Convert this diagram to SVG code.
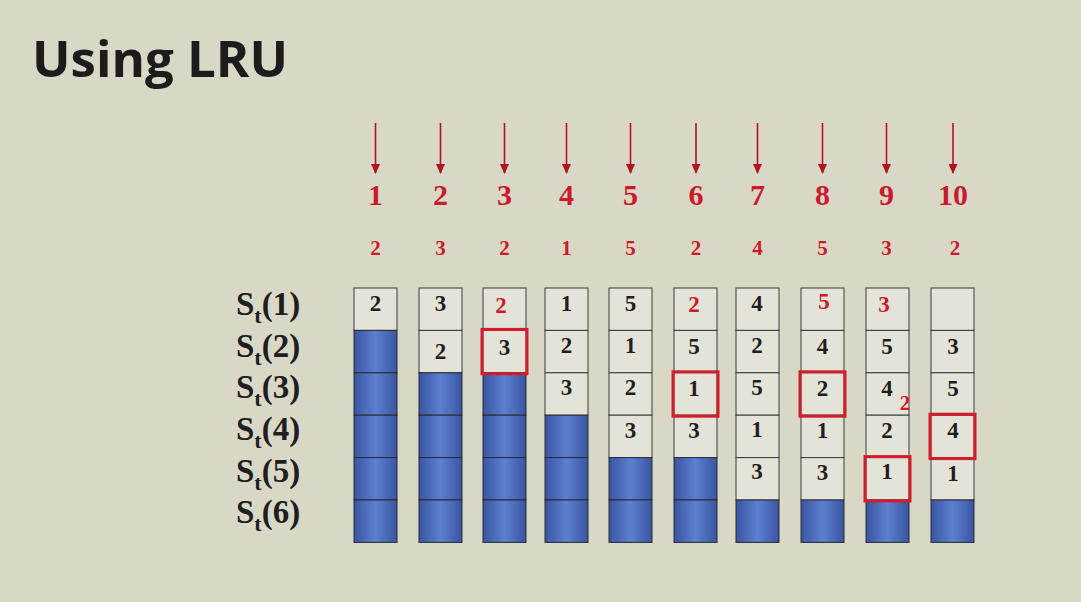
<svg xmlns="http://www.w3.org/2000/svg" width="1081" height="602" viewBox="0 0 1081 602">
<defs>
<linearGradient id="blue" x1="0" y1="0" x2="1" y2="0">
<stop offset="0" stop-color="#3a55a2"/>
<stop offset="0.5" stop-color="#5b80d1"/>
<stop offset="1" stop-color="#3a55a2"/>
</linearGradient>
<marker id="ah" markerWidth="10" markerHeight="9" refX="9" refY="4.5" orient="auto" markerUnits="userSpaceOnUse" viewBox="0 0 10 9">
<path d="M0,0 L10,4.5 L0,9 Z" fill="#b3121f"/>
</marker>
<style>
.bg{fill:#d9d8c7}
.title{font-family:"Open Sans","Noto Sans",sans-serif;font-weight:bold;font-size:51px;fill:#1c1c1c}
.lt{fill:#e4e3d7;stroke:#3a3a36;stroke-width:1}
.bl{fill:url(#blue);stroke:#2a2a2a;stroke-width:1}
.num{font-family:"Liberation Serif","Times New Roman",serif;font-weight:bold;font-size:23px;fill:#1e1e1e;text-anchor:middle}
.red{fill:#cc1a2c}
.box{fill:none;stroke:#d41c2c;stroke-width:3}
.big{font-family:"Liberation Serif","Times New Roman",serif;font-weight:bold;font-size:30px;fill:#cc1a2c;text-anchor:middle}
.sm{font-family:"Liberation Serif","Times New Roman",serif;font-weight:bold;font-size:21px;fill:#cc1a2c;text-anchor:middle}
.lab{font-family:"Liberation Serif","Times New Roman",serif;font-weight:bold;font-size:33px;fill:#1e1e1e}
.arr{stroke:#b3121f;stroke-width:1.6;fill:none;marker-end:url(#ah)}
</style>
</defs>
<rect class="bg" x="0" y="0" width="1081" height="602"/>
<text class="title" x="32" y="77">Using LRU</text>

<g id="connectors">
<line class="arr" x1="375.5" y1="123" x2="375.5" y2="173"/>
<line class="arr" x1="440.5" y1="123" x2="440.5" y2="173"/>
<line class="arr" x1="504.5" y1="123" x2="504.5" y2="173"/>
<line class="arr" x1="566.5" y1="123" x2="566.5" y2="173"/>
<line class="arr" x1="630.5" y1="123" x2="630.5" y2="173"/>
<line class="arr" x1="696" y1="123" x2="696" y2="173"/>
<line class="arr" x1="757.5" y1="123" x2="757.5" y2="173"/>
<line class="arr" x1="822.5" y1="123" x2="822.5" y2="173"/>
<line class="arr" x1="886.5" y1="123" x2="886.5" y2="173"/>
<line class="arr" x1="953" y1="123" x2="953" y2="173"/>
</g>

<g id="time-labels">
<text class="big" x="375.5" y="205">1</text>
<text class="big" x="440.5" y="205">2</text>
<text class="big" x="504.5" y="205">3</text>
<text class="big" x="566.5" y="205">4</text>
<text class="big" x="630.5" y="205">5</text>
<text class="big" x="696" y="205">6</text>
<text class="big" x="757.5" y="205">7</text>
<text class="big" x="822.5" y="205">8</text>
<text class="big" x="886.5" y="205">9</text>
<text class="big" x="953" y="205">10</text>
</g>
<g id="references">
<text class="sm" x="375.5" y="255">2</text>
<text class="sm" x="440.5" y="255">3</text>
<text class="sm" x="504.5" y="255">2</text>
<text class="sm" x="566.5" y="255">1</text>
<text class="sm" x="630.5" y="255">5</text>
<text class="sm" x="696" y="255">2</text>
<text class="sm" x="757.5" y="255">4</text>
<text class="sm" x="822.5" y="255">5</text>
<text class="sm" x="886.5" y="255">3</text>
<text class="sm" x="955" y="255">2</text>
</g>

<g id="row-labels">
<text class="lab" x="236" y="315">S<tspan dy="8" font-size="22">t</tspan><tspan dy="-8">(1)</tspan></text>
<text class="lab" x="236" y="357">S<tspan dy="8" font-size="22">t</tspan><tspan dy="-8">(2)</tspan></text>
<text class="lab" x="236" y="398">S<tspan dy="8" font-size="22">t</tspan><tspan dy="-8">(3)</tspan></text>
<text class="lab" x="236" y="440">S<tspan dy="8" font-size="22">t</tspan><tspan dy="-8">(4)</tspan></text>
<text class="lab" x="236" y="482">S<tspan dy="8" font-size="22">t</tspan><tspan dy="-8">(5)</tspan></text>
<text class="lab" x="236" y="523">S<tspan dy="8" font-size="22">t</tspan><tspan dy="-8">(6)</tspan></text>
</g>

<g id="col1">
<rect class="lt" x="354" y="288" width="43" height="42.4"/>
<rect class="bl" x="354" y="330.4" width="43" height="42.4"/>
<rect class="bl" x="354" y="372.8" width="43" height="42.4"/>
<rect class="bl" x="354" y="415.2" width="43" height="42.4"/>
<rect class="bl" x="354" y="457.6" width="43" height="42.4"/>
<rect class="bl" x="354" y="500" width="43" height="42.4"/>
<text class="num" x="375.5" y="311">2</text>
</g>

<g id="col2">
<rect class="lt" x="419" y="288" width="43" height="42.4"/>
<rect class="lt" x="419" y="330.4" width="43" height="42.4"/>
<rect class="bl" x="419" y="372.8" width="43" height="42.4"/>
<rect class="bl" x="419" y="415.2" width="43" height="42.4"/>
<rect class="bl" x="419" y="457.6" width="43" height="42.4"/>
<rect class="bl" x="419" y="500" width="43" height="42.4"/>
<text class="num" x="440.5" y="311">3</text>
<text class="num" x="440.5" y="359">2</text>
</g>

<g id="col3">
<rect class="lt" x="483" y="288" width="43" height="42.4"/>
<rect class="lt" x="483" y="330.4" width="43" height="42.4"/>
<rect class="bl" x="483" y="372.8" width="43" height="42.4"/>
<rect class="bl" x="483" y="415.2" width="43" height="42.4"/>
<rect class="bl" x="483" y="457.6" width="43" height="42.4"/>
<rect class="bl" x="483" y="500" width="43" height="42.4"/>
<text class="num red" x="501" y="313">2</text>
<text class="num" x="504.5" y="355">3</text>
<rect class="box" x="482" y="329.4" width="45" height="44.4"/>
</g>

<g id="col4">
<rect class="lt" x="545" y="288" width="43" height="42.4"/>
<rect class="lt" x="545" y="330.4" width="43" height="42.4"/>
<rect class="lt" x="545" y="372.8" width="43" height="42.4"/>
<rect class="bl" x="545" y="415.2" width="43" height="42.4"/>
<rect class="bl" x="545" y="457.6" width="43" height="42.4"/>
<rect class="bl" x="545" y="500" width="43" height="42.4"/>
<text class="num" x="566.5" y="311">1</text>
<text class="num" x="566.5" y="353">2</text>
<text class="num" x="566.5" y="395">3</text>
</g>

<g id="col5">
<rect class="lt" x="609" y="288" width="43" height="42.4"/>
<rect class="lt" x="609" y="330.4" width="43" height="42.4"/>
<rect class="lt" x="609" y="372.8" width="43" height="42.4"/>
<rect class="lt" x="609" y="415.2" width="43" height="42.4"/>
<rect class="bl" x="609" y="457.6" width="43" height="42.4"/>
<rect class="bl" x="609" y="500" width="43" height="42.4"/>
<text class="num" x="630.5" y="311">5</text>
<text class="num" x="630.5" y="353">1</text>
<text class="num" x="630.5" y="395">2</text>
<text class="num" x="630.5" y="438">3</text>
</g>

<g id="col6">
<rect class="lt" x="674" y="288" width="43" height="42.4"/>
<rect class="lt" x="674" y="330.4" width="43" height="42.4"/>
<rect class="lt" x="674" y="372.8" width="43" height="42.4"/>
<rect class="lt" x="674" y="415.2" width="43" height="42.4"/>
<rect class="bl" x="674" y="457.6" width="43" height="42.4"/>
<rect class="bl" x="674" y="500" width="43" height="42.4"/>
<text class="num red" x="694" y="312">2</text>
<text class="num" x="694" y="354">5</text>
<text class="num" x="694" y="396">1</text>
<text class="num" x="694" y="438">3</text>
<rect class="box" x="673" y="371.8" width="45" height="44.4"/>
</g>

<g id="col7">
<rect class="lt" x="736" y="288" width="43" height="42.4"/>
<rect class="lt" x="736" y="330.4" width="43" height="42.4"/>
<rect class="lt" x="736" y="372.8" width="43" height="42.4"/>
<rect class="lt" x="736" y="415.2" width="43" height="42.4"/>
<rect class="lt" x="736" y="457.6" width="43" height="42.4"/>
<rect class="bl" x="736" y="500" width="43" height="42.4"/>
<text class="num" x="757" y="311">4</text>
<text class="num" x="757" y="353">2</text>
<text class="num" x="757" y="395">5</text>
<text class="num" x="757" y="437">1</text>
<text class="num" x="757" y="479">3</text>
</g>

<g id="col8">
<rect class="lt" x="801" y="288" width="43" height="42.4"/>
<rect class="lt" x="801" y="330.4" width="43" height="42.4"/>
<rect class="lt" x="801" y="372.8" width="43" height="42.4"/>
<rect class="lt" x="801" y="415.2" width="43" height="42.4"/>
<rect class="lt" x="801" y="457.6" width="43" height="42.4"/>
<rect class="bl" x="801" y="500" width="43" height="42.4"/>
<text class="num red" x="824" y="309">5</text>
<text class="num" x="822.5" y="354">4</text>
<text class="num" x="822.5" y="396">2</text>
<text class="num" x="822.5" y="438">1</text>
<text class="num" x="822.5" y="480">3</text>
<rect class="box" x="800" y="371.8" width="45" height="44.4"/>
</g>

<g id="col9">
<rect class="lt" x="866" y="288" width="43" height="42.4"/>
<rect class="lt" x="866" y="330.4" width="43" height="42.4"/>
<rect class="lt" x="866" y="372.8" width="43" height="42.4"/>
<rect class="lt" x="866" y="415.2" width="43" height="42.4"/>
<rect class="lt" x="866" y="457.6" width="43" height="42.4"/>
<rect class="bl" x="866" y="500" width="43" height="42.4"/>
<text class="num red" x="884" y="312">3</text>
<text class="num" x="887" y="354">5</text>
<text class="num" x="887" y="396">4</text>
<text class="num" x="887" y="438">2</text>
<text class="num" x="887" y="479">1</text>
<text class="sm" x="905" y="410">2</text>
<rect class="box" x="865" y="456.6" width="45" height="44.4"/>
</g>

<g id="col10">
<rect class="lt" x="931" y="288" width="43" height="42.4"/>
<rect class="lt" x="931" y="330.4" width="43" height="42.4"/>
<rect class="lt" x="931" y="372.8" width="43" height="42.4"/>
<rect class="lt" x="931" y="415.2" width="43" height="42.4"/>
<rect class="lt" x="931" y="457.6" width="43" height="42.4"/>
<rect class="bl" x="931" y="500" width="43" height="42.4"/>
<text class="num" x="953" y="354">3</text>
<text class="num" x="953" y="396">5</text>
<text class="num" x="953" y="438">4</text>
<text class="num" x="953" y="481">1</text>
<rect class="box" x="930" y="414.2" width="45" height="44.4"/>
</g>
</svg>
